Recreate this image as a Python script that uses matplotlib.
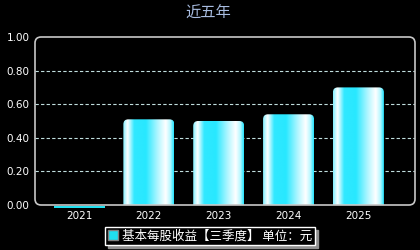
import numpy as np
import matplotlib
matplotlib.use('Agg')
import matplotlib.pyplot as plt
from matplotlib.patches import FancyBboxPatch, Rectangle, Patch
from matplotlib.colors import LinearSegmentedColormap

plt.rcParams['font.family'] = ['Noto Sans CJK SC', 'DejaVu Sans']

years = ['2021', '2022', '2023', '2024', '2025']
eps = [-0.01, 0.51, 0.50, 0.54, 0.70]
y_ticks = [0.0, 0.2, 0.4, 0.6, 0.8, 1.0]
title = '近五年'
legend_label = '基本每股收益【三季度】 单位：元'

bar_w = 0.73
bar_cmap = LinearSegmentedColormap.from_list('bar', [
    (0.00, '#80f0ff'), (0.09, '#ffffff'), (0.22, '#30e8ff'),
    (0.45, '#28e8ff'), (0.68, '#b0f6ff'), (0.84, '#ffffff'),
    (0.93, '#b8f8ff'), (1.00, '#20e4ff')])
grad = np.linspace(0, 1, 256).reshape(1, -1)

fig = plt.figure(figsize=(4.2, 2.5), dpi=100)
fig.set_facecolor('black')
ax = fig.add_axes([35 / 420, 45 / 250, 380 / 420, 168 / 250])
ax.set_facecolor('black')

for sp in ax.spines.values():
    sp.set_visible(False)

# rounded frame
frame = FancyBboxPatch((0, 0), 1, 1, boxstyle='round,pad=0,rounding_size=0.016',
                       mutation_aspect=2.26, transform=ax.transAxes,
                       facecolor='none', edgecolor='#c8c8c8', linewidth=1.2,
                       clip_on=False, zorder=5)
ax.add_patch(frame)

for y in y_ticks[1:-1]:
    ax.axhline(y, color='#c0dede', linewidth=0.8, linestyle=(0, (3, 2)), zorder=1)

for i, v in enumerate(eps):
    x0 = i - bar_w / 2
    if v <= 0:
        ax.add_patch(Rectangle((x0, v - 0.006), bar_w, 0.012, facecolor='#20e0f0',
                               edgecolor='none', clip_on=False, zorder=3))
        continue
    clip = FancyBboxPatch((x0, -0.1), bar_w, v + 0.1,
                          boxstyle='round,pad=0,rounding_size=0.07',
                          mutation_aspect=0.425, facecolor='none', edgecolor='none',
                          transform=ax.transData)
    ax.add_patch(clip)
    im = ax.imshow(grad, cmap=bar_cmap, aspect='auto', extent=(x0, x0 + bar_w, 0, v),
                   zorder=2, interpolation='bilinear')
    im.set_clip_path(clip)

ax.set_xlim(-0.63, 4.81)
ax.set_ylim(0, 1.0)
ax.set_xticks(range(len(years)))
ax.set_xticklabels(years)
ax.set_yticks(y_ticks)
ax.set_yticklabels([f'{t:.2f}' for t in y_ticks])
ax.tick_params(colors='white', labelsize=7.5, length=0, pad=4)
for lab in ax.get_xticklabels() + ax.get_yticklabels():
    lab.set_family('DejaVu Sans')

fig.text(0.497, 0.947, title, color='#a8bce0', fontsize=11, ha='center', va='center')

leg = ax.legend(handles=[Patch(facecolor='#20e0f0', edgecolor='#808080', label=legend_label)],
                loc='center', bbox_to_anchor=(210 / 420, 1 - 236 / 250),
                bbox_transform=fig.transFigure, frameon=True, fancybox=False,
                shadow={'color': '#909090', 'alpha': 1}, fontsize=9,
                labelcolor='white', facecolor='black', edgecolor='white',
                handlelength=0.85, handleheight=0.85, handletextpad=0.3,
                borderpad=0.22, borderaxespad=0)
leg.get_frame().set_linewidth(1.0)

plt.savefig('out.png', dpi=100, facecolor='black')
plt.close()
